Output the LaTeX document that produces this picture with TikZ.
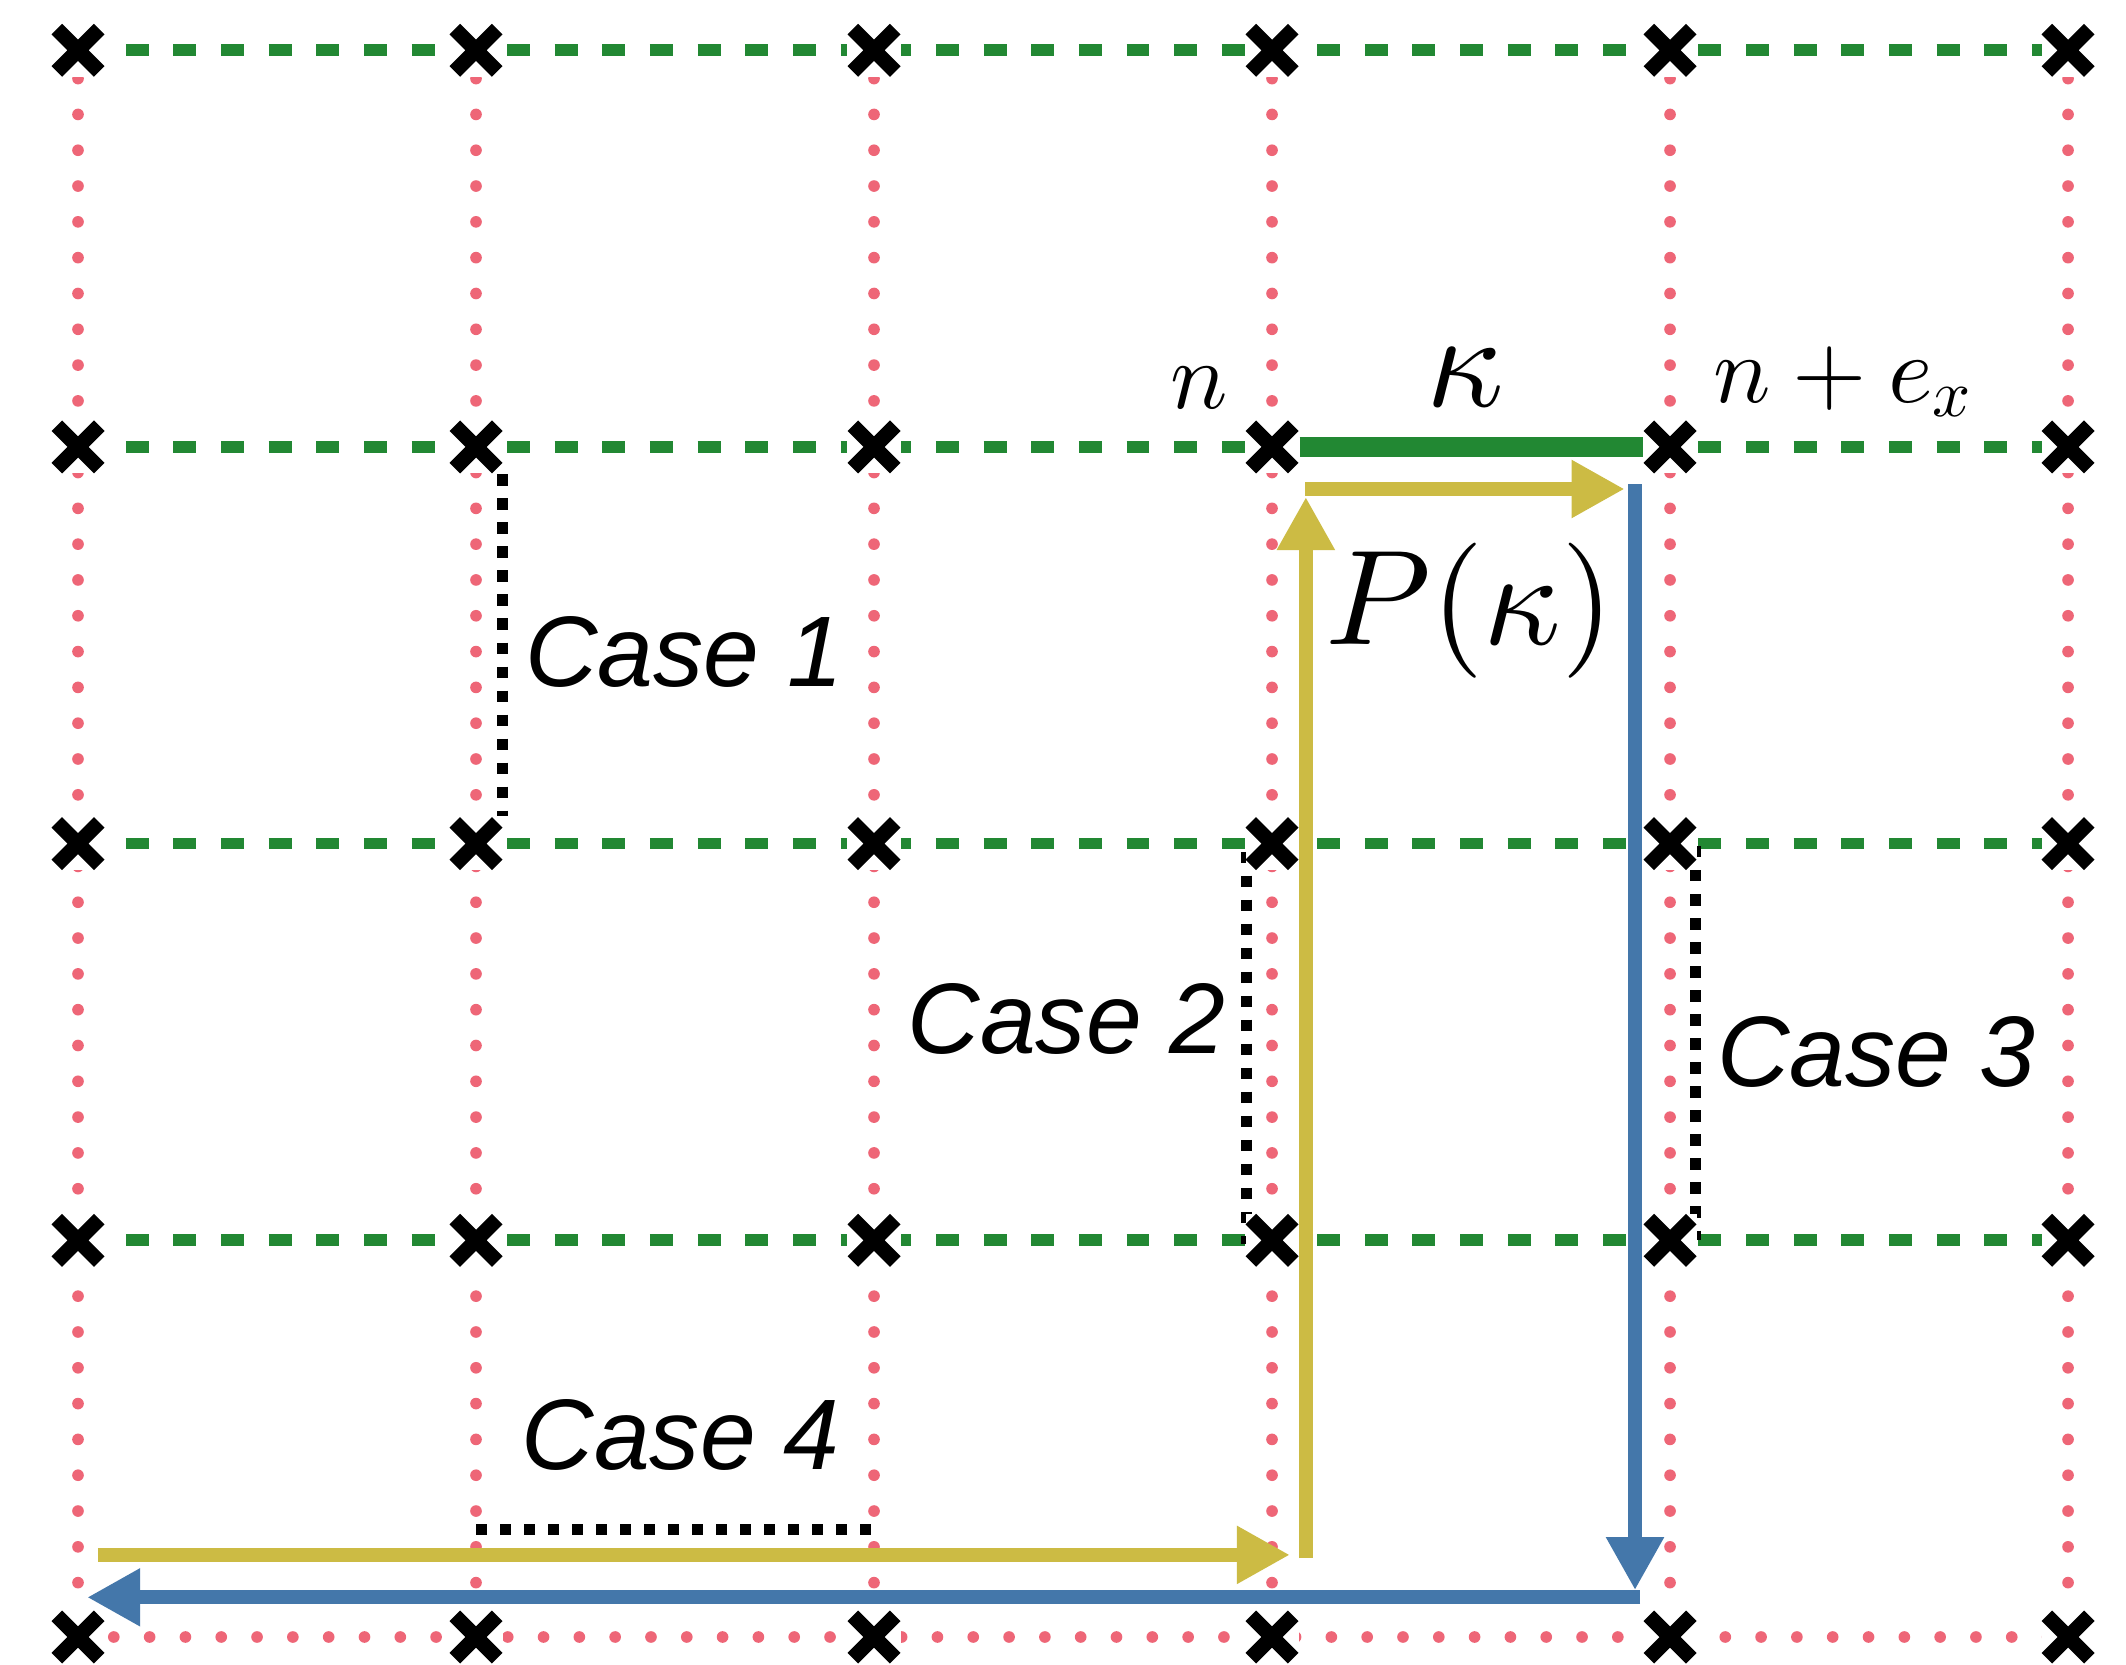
\documentclass[tikz,border=0pt]{standalone}
\usepackage{fontspec}
\newfontfamily\casefont{Liberation Sans}
\usepackage{tikz}
\usetikzlibrary{arrows.meta}
% scalable math fonts for the large labels
\DeclareFontShape{OML}{cmm}{m}{it}{<->cmmi10}{}
\DeclareFontShape{OT1}{cmr}{m}{n}{<->cmr10}{}
\DeclareFontShape{OMS}{cmsy}{m}{n}{<->cmsy10}{}
\definecolor{tolgreen}{HTML}{228833}
\definecolor{tolyellow}{HTML}{CCBB44}
\definecolor{tolblue}{HTML}{4477AA}
\definecolor{tolred}{HTML}{EE6677}
\pgfdeclarelayer{bg}
\pgfsetlayers{bg,main}

\begin{document}
\begin{tikzpicture}[x=3cm, y=2.99cm,
  site/.style={rectangle, fill=white, minimum size=0.4cm, inner sep=0pt,
    path picture={\draw[black, line width=3.2pt]
      ([shift={(-0.16cm,-0.16cm)}]path picture bounding box.center) --
      ([shift={(0.16cm,0.16cm)}]path picture bounding box.center)
      ([shift={(-0.16cm,0.16cm)}]path picture bounding box.center) --
      ([shift={(0.16cm,-0.16cm)}]path picture bounding box.center);}},
  xlink/.style={tolgreen, line width=2.5pt, dash pattern=on 4.93pt off 5.29pt},
  ylink/.style={tolred, line width=2.5pt, line cap=round, dash pattern=on 0pt off 7.68pt},
  casemark/.style={black, line width=2.4pt, dash pattern=on 2.4pt off 2.75pt},
  flow/.style={line width=3pt, -{Triangle[length=0.4cm, width=0.41cm]}},
  caselab/.style={font=\casefont\itshape\fontsize{21.5}{26}\selectfont, anchor=base},
  sitelab/.style={font=\fontsize{20.5}{24}\selectfont, anchor=base},
  biglab/.style={font=\fontsize{29}{34}\selectfont, anchor=base},
]
  \useasboundingbox (-0.588cm,-0.211cm) rectangle (15.437cm,12.339cm);

  % Lattice sites.
  \foreach \i in {0,...,5}
    \foreach \j in {0,...,4}
      \node[site] (p\i\j) at (\i,\j) {};

  \begin{pgfonlayer}{bg}
    \fill[white] (-0.588cm,-0.211cm) rectangle (15.437cm,12.339cm);
    % Links: dotted in y (and along the bottom row), dashed in x.
    \foreach \i in {0,...,5}
      \draw[ylink, dash phase=1.6pt] (p\i4.center) -- (p\i0.center);
    \draw[ylink] (p00.center) -- (p50.center);
    \foreach \j in {1,...,4}
      \draw[xlink, shorten <=0.36cm] (p0\j.center) -- (p5\j.center);

    % Case markers.
    \draw[casemark] ([xshift=0.2cm]p13.south) -- ([xshift=0.2cm]p12.north);
    \draw[casemark] ([xshift=-0.19cm, yshift=-0.06cm]p32.center) -- ([xshift=-0.19cm, yshift=-0.03cm]p31.center);
    \draw[casemark] ([xshift=0.19cm, yshift=-0.02cm]p42.center) -- ([xshift=0.19cm]p41.center);
    \draw[casemark] ([yshift=0.81cm]p10.center) -- ([yshift=0.81cm]p20.center);
  \end{pgfonlayer}

  % The link kappa.
  \draw[tolgreen, line width=4.1pt] (p33) -- (p43);

  % Path P(kappa) and its return.
  \coordinate (y0) at (0.050,0.207);
  \coordinate (y1) at (3.045,0.207);
  \coordinate (y2) at (3.085,0.199);
  \coordinate (y3) at (3.085,2.874);
  \coordinate (y4) at (3.083,2.894);
  \coordinate (y5) at (3.886,2.894);
  \coordinate (b0) at (3.912,2.906);
  \coordinate (b1) at (3.912,0.118);
  \coordinate (b2) at (3.925,0.100);
  \coordinate (b3) at (0.023,0.100);
  \draw[flow, tolyellow] (y0) -- (y1);
  \draw[flow, tolyellow] (y2) -- (y3);
  \draw[flow, tolyellow] (y4) -- (y5);
  \draw[flow, tolblue] (b0) -- (b1);
  \draw[flow, tolblue] (b2) -- (b3);

  % Labels.
  \node[caselab] (c1) at (1.523,2.395) {Case 1};
  \node[caselab] (c2) at (2.484,1.472) {Case 2};
  \node[caselab] (c3) at (4.518,1.389) {Case 3};
  \node[caselab] (c4) at (1.514,0.421) {Case 4};
  \node[sitelab] (ln) at (2.817,3.098) {$n$};
  \node[biglab] (lk) at (3.485,3.101) {$\kappa$};
  \node[sitelab] (lnx) at (4.436,3.113) {$n+e_x$};
  \node[biglab] (lp) at (3.497,2.501) {$P(\kappa)$};
\end{tikzpicture}
\end{document}
